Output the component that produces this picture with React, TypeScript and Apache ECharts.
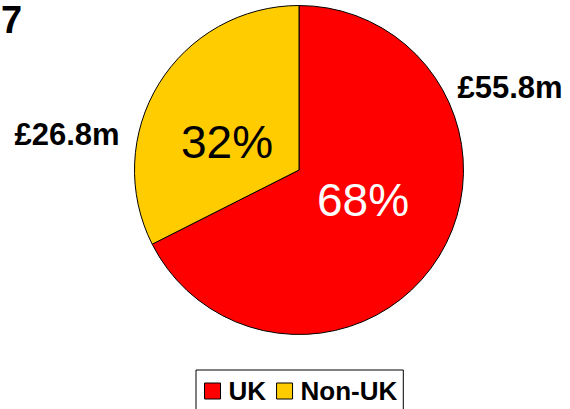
import React, { useEffect, useRef } from "react";
import * as echarts from "echarts";

const categories = ["UK", "Non-UK"];
const values = [55.8, 26.8];
const percentLabels = ["68%", "32%"];
const valueLabels = ["£55.8m", "£26.8m"];
const colors = ["#FF0000", "#FFCC00"];
const titleText = "7";

const FONT = "'Liberation Sans', Arial, sans-serif";

export default function App() {
  const ref = useRef<HTMLDivElement>(null);
  useEffect(() => {
    document.body.style.margin = "0";
    if (!ref.current) return;
    const chart = echarts.init(ref.current, null, { renderer: "svg" });
    const cx = 299;
    const cy = 170;
    const pctPos = [
      [cx + 64, cy + 30],
      [cx - 72, cy - 28],
    ];
    const valPos = [
      [cx + 211, cy - 83],
      [cx - 232, cy - 36],
    ];
    const data = categories.map((name, i) => ({
      name,
      value: values[i],
      itemStyle: { color: colors[i] },
    }));
    chart.setOption({
      animation: false,
      textStyle: { fontFamily: FONT },
      graphic: [
        {
          type: "text",
          left: 1,
          top: 1,
          style: {
            text: titleText,
            font: `bold 38px ${FONT}`,
            fill: "#000",
          },
        },
      ],
      legend: {
        data: categories,
        left: 196,
        top: 370,
        orient: "horizontal",
        padding: [8, 6, 8, 8],
        itemGap: 10,
        itemWidth: 16,
        itemHeight: 16,
        borderColor: "#000",
        borderWidth: 1,
        icon: "rect",
        itemStyle: { borderColor: "#000", borderWidth: 1 },
        textStyle: {
          fontFamily: FONT,
          fontSize: 26,
          fontWeight: "bold",
          color: "#000",
          padding: [0, 0, 0, 3],
        },
      },
      series: [
        {
          type: "pie",
          center: [cx, cy],
          radius: 164.5,
          startAngle: 90,
          clockwise: true,
          silent: true,
          itemStyle: { borderColor: "#000", borderWidth: 1 },
          label: {
            show: true,
            position: "inside",
            formatter: (p: any) => percentLabels[p.dataIndex],
            fontFamily: FONT,
            fontSize: 46,
            color: "#000",
          },
          labelLine: { show: false },
          labelLayout: (p: any) => ({
            x: pctPos[p.dataIndex][0],
            y: pctPos[p.dataIndex][1],
            align: "center",
            verticalAlign: "middle",
          }),
          data: data.map((d, i) => ({
            ...d,
            label: { color: i === 0 ? "#fff" : "#000" },
          })),
        },
        {
          type: "pie",
          center: [cx, cy],
          radius: 164.5,
          startAngle: 90,
          clockwise: true,
          silent: true,
          itemStyle: { color: "transparent", borderWidth: 0 },
          label: {
            show: true,
            position: "inside",
            formatter: (p: any) => valueLabels[p.dataIndex],
            fontFamily: FONT,
            fontSize: 31,
            fontWeight: "bold",
            color: "#000",
          },
          labelLine: { show: false },
          labelLayout: (p: any) => ({
            x: valPos[p.dataIndex][0],
            y: valPos[p.dataIndex][1],
            align: "center",
            verticalAlign: "middle",
          }),
          data: categories.map((name, i) => ({
            name,
            value: values[i],
            itemStyle: { color: "transparent" },
          })),
        },
      ],
    });
    return () => chart.dispose();
  }, []);
  return <div ref={ref} style={{ width: 570, height: 409 }} />;
}
